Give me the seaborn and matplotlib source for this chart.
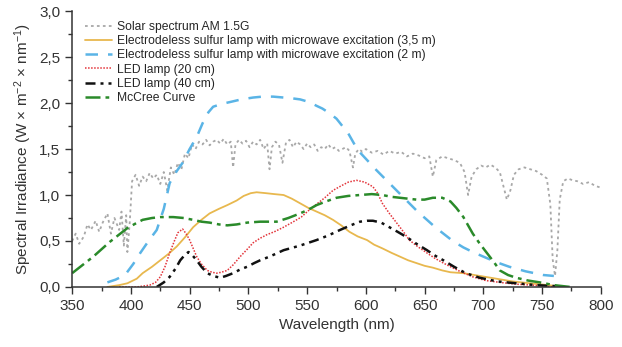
import seaborn as sns
import matplotlib.pyplot as plt
from matplotlib.ticker import MultipleLocator, FuncFormatter

# solar spectrum AM 1.5G (uneven sampling to keep the dips)
solar_nm = [350, 353, 356, 360, 363, 366, 370, 373, 376, 380, 383, 386, 390, 392, 394, 396, 397, 399,
            401, 404, 407, 410, 413, 416, 419, 422, 425, 428, 431, 434, 437, 440, 443, 446, 449, 452,
            455, 458, 461, 464, 467, 470, 473, 476, 479, 482, 485, 487, 489, 492, 495, 498, 501, 504,
            507, 510, 513, 516, 518, 520, 523, 526, 529, 532, 535, 538, 541, 544, 547, 550, 553, 556,
            559, 562, 565, 568, 571, 574, 577, 580, 583, 586, 589, 591, 594, 597, 600, 605, 610, 615,
            620, 625, 630, 635, 640, 645, 650, 654, 657, 660, 665, 670, 675, 680, 684, 687, 690, 694,
            698, 702, 706, 710, 714, 717, 720, 723, 726, 730, 735, 740, 745, 750, 754, 757, 759, 761,
            763, 765, 768, 772, 776, 780, 785, 790, 795, 800]
solar_val = [0.50, 0.58, 0.47, 0.55, 0.68, 0.62, 0.72, 0.60, 0.70, 0.80, 0.58, 0.75, 0.62, 0.82, 0.45, 0.78, 0.38, 0.70,
             1.15, 1.22, 1.10, 1.20, 1.15, 1.24, 1.18, 1.22, 1.12, 1.25, 1.05, 1.30, 1.22, 1.35, 1.28, 1.45, 1.40, 1.55,
             1.50, 1.58, 1.55, 1.60, 1.54, 1.58, 1.60, 1.56, 1.61, 1.55, 1.58, 1.30, 1.55, 1.60, 1.56, 1.59, 1.52, 1.58,
             1.55, 1.60, 1.50, 1.56, 1.28, 1.52, 1.58, 1.55, 1.35, 1.57, 1.60, 1.52, 1.58, 1.55, 1.50, 1.56, 1.52, 1.55,
             1.48, 1.52, 1.50, 1.55, 1.50, 1.52, 1.48, 1.50, 1.52, 1.48, 1.30, 1.45, 1.50, 1.47, 1.50, 1.46, 1.48, 1.44,
             1.48, 1.45, 1.47, 1.42, 1.45, 1.43, 1.40, 1.42, 1.20, 1.38, 1.42, 1.40, 1.38, 1.35, 1.25, 1.00, 1.20, 1.28,
             1.32, 1.30, 1.33, 1.30, 1.25, 1.10, 0.95, 1.05, 1.22, 1.28, 1.30, 1.28, 1.26, 1.22, 1.18, 0.90, 0.30, 0.12,
             0.40, 0.95, 1.15, 1.18, 1.16, 1.15, 1.12, 1.14, 1.10, 1.08]

# electrodeless sulfur lamp, 3,5 m
sulfur35_nm = [380, 390, 397, 405, 410, 418, 425, 432, 439, 446, 453, 460, 467, 475, 482, 490, 496, 502, 507,
               515, 522, 530, 537, 544, 551, 558, 565, 572, 579, 586, 593, 601, 607, 614, 622, 629, 636, 643,
               650, 657, 665, 672, 683, 697, 711, 725, 740, 755, 770]
sulfur35_val = [0.0, 0.02, 0.04, 0.09, 0.15, 0.22, 0.29, 0.36, 0.44, 0.54, 0.65, 0.73, 0.80, 0.85, 0.89, 0.94, 0.99,
                1.02, 1.03, 1.02, 1.01, 1.0, 0.96, 0.91, 0.86, 0.82, 0.78, 0.73, 0.67, 0.60, 0.55, 0.51, 0.46, 0.42,
                0.37, 0.33, 0.29, 0.26, 0.23, 0.21, 0.18, 0.16, 0.15, 0.12, 0.09, 0.06, 0.04, 0.02, 0.0]

# electrodeless sulfur lamp, 2 m
sulfur2_nm = [380, 387, 395, 402, 408, 415, 422, 428, 433, 439, 444, 450, 456, 461, 466, 470, 477, 484, 494, 504,
              512, 521, 530, 538, 544, 552, 558, 563, 569, 575, 580, 585, 593, 601, 609, 616, 623, 630, 637, 644,
              652, 659, 666, 674, 683, 691, 700, 711, 722, 736, 751, 760]
sulfur2_val = [0.05, 0.08, 0.13, 0.25, 0.37, 0.50, 0.62, 0.85, 1.13, 1.26, 1.35, 1.50, 1.63, 1.78, 1.90, 1.96, 1.99,
               2.01, 2.04, 2.06, 2.07, 2.07, 2.06, 2.05, 2.04, 2.01, 1.97, 1.94, 1.89, 1.83, 1.75, 1.67, 1.49, 1.38,
               1.27, 1.18, 1.09, 1.00, 0.91, 0.82, 0.73, 0.65, 0.58, 0.50, 0.43, 0.38, 0.33, 0.27, 0.22, 0.17, 0.13,
               0.12]

# LED lamp at 20 cm
led20_nm = [390, 405, 416, 421, 425, 429, 433, 437, 440, 444, 447, 450, 453, 456, 460, 465, 469, 473, 477, 482,
            487, 493, 499, 504, 510, 516, 522, 530, 537, 545, 552, 558, 565, 572, 579, 585, 592, 599, 606, 610,
            614, 620, 626, 632, 637, 644, 652, 659, 666, 672, 680, 691, 702, 714, 728, 742, 760]
led20_val = [0.0, 0.0, 0.02, 0.05, 0.11, 0.22, 0.37, 0.50, 0.59, 0.63, 0.58, 0.51, 0.42, 0.33, 0.25, 0.18, 0.16, 0.15,
             0.16, 0.18, 0.24, 0.33, 0.41, 0.48, 0.53, 0.57, 0.60, 0.65, 0.70, 0.76, 0.84, 0.90, 0.97, 1.05, 1.10,
             1.14, 1.16, 1.14, 1.09, 1.02, 0.91, 0.80, 0.70, 0.60, 0.51, 0.44, 0.37, 0.31, 0.26, 0.22, 0.17, 0.11,
             0.07, 0.05, 0.03, 0.02, 0.0]

# LED lamp at 40 cm
led40_nm = [422, 428, 433, 438, 442, 446, 449, 452, 456, 460, 465, 470, 476, 481, 487, 493, 499, 505, 510, 518,
            530, 544, 558, 568, 578, 587, 595, 601, 606, 613, 620, 627, 635, 643, 652, 659, 666, 675, 685, 697,
            712, 728, 745, 760, 770]
led40_val = [0.0, 0.05, 0.11, 0.20, 0.29, 0.35, 0.38, 0.35, 0.29, 0.22, 0.15, 0.12, 0.10, 0.12, 0.15, 0.19, 0.22,
             0.26, 0.29, 0.33, 0.40, 0.45, 0.51, 0.56, 0.62, 0.67, 0.71, 0.72, 0.72, 0.70, 0.65, 0.60, 0.54, 0.47,
             0.40, 0.34, 0.29, 0.22, 0.15, 0.10, 0.06, 0.04, 0.02, 0.01, 0.0]

# McCree curve
mccree_nm = [350, 359, 368, 375, 382, 390, 397, 404, 410, 418, 425, 436, 445, 453, 460, 467, 475, 482, 490, 499,
             510, 524, 534, 544, 551, 558, 566, 575, 585, 595, 605, 614, 622, 629, 636, 643, 650, 657, 665, 672,
             677, 683, 687, 691, 697, 703, 709, 714, 721, 728, 738, 748, 760, 774]
mccree_val = [0.15, 0.24, 0.33, 0.41, 0.49, 0.57, 0.64, 0.69, 0.73, 0.75, 0.76, 0.76, 0.75, 0.73, 0.71, 0.70, 0.68,
              0.67, 0.68, 0.70, 0.71, 0.71, 0.75, 0.80, 0.84, 0.89, 0.93, 0.97, 0.99, 1.00, 1.01, 1.00, 0.98, 0.97,
              0.96, 0.95, 0.95, 0.97, 0.97, 0.93, 0.86, 0.76, 0.67, 0.58, 0.47, 0.37, 0.27, 0.18, 0.13, 0.10, 0.07,
              0.05, 0.02, 0.0]

labels = ['Solar spectrum AM 1.5G',
          'Electrodeless sulfur lamp with microwave excitation (3,5 m)',
          'Electrodeless sulfur lamp with microwave excitation (2 m)',
          'LED lamp (20 cm)',
          'LED lamp (40 cm)',
          'McCree Curve']

sns.set_style('ticks')
plt.rcParams['font.family'] = ['Liberation Sans', 'DejaVu Sans']
plt.rcParams['mathtext.fontset'] = 'custom'
plt.rcParams['mathtext.rm'] = 'Liberation Sans'
plt.rcParams['mathtext.it'] = 'Liberation Sans:italic'

fig, ax = plt.subplots(figsize=(6.22, 3.47), dpi=100)
fig.subplots_adjust(left=0.116, right=0.966, bottom=0.173, top=0.968)

sns.lineplot(x=solar_nm, y=solar_val, ax=ax, color='#a8a8a8', linestyle=(0, (1.5, 1.8)), linewidth=1.3,
             label=labels[0])
sns.lineplot(x=sulfur35_nm, y=sulfur35_val, ax=ax, color='#e8b84e', linestyle='-', linewidth=1.3,
             label=labels[1])
sns.lineplot(x=sulfur2_nm, y=sulfur2_val, ax=ax, color='#5ab4e6', linestyle=(0, (5, 4)), linewidth=1.8,
             label=labels[2])
sns.lineplot(x=led20_nm, y=led20_val, ax=ax, color='#e3343a', linestyle=(0, (1, 1)), linewidth=1.1,
             label=labels[3])
sns.lineplot(x=led40_nm, y=led40_val, ax=ax, color='#111111', linestyle=(0, (4, 2, 1.2, 2, 1.2, 2)), linewidth=1.8,
             label=labels[4])
sns.lineplot(x=mccree_nm, y=mccree_val, ax=ax, color='#2a8a2a', linestyle=(0, (6, 2, 1.5, 2)), linewidth=1.8,
             label=labels[5])

ax.set_xlim(350, 800)
ax.set_ylim(0, 3)
ax.xaxis.set_major_locator(MultipleLocator(50))
ax.xaxis.set_minor_locator(MultipleLocator(25))
ax.yaxis.set_major_locator(MultipleLocator(0.5))
ax.yaxis.set_minor_locator(MultipleLocator(0.25))
ax.yaxis.set_major_formatter(FuncFormatter(lambda v, p: f'{v:.1f}'.replace('.', ',')))
ax.tick_params(axis='both', which='major', length=5, width=1, labelsize=11, colors='#333333', direction='out')
ax.tick_params(axis='both', which='minor', length=3, width=1, colors='#333333', direction='out')
sns.despine(ax=ax)
for s in ['left', 'bottom']:
    ax.spines[s].set_color('#333333')
    ax.spines[s].set_linewidth(1.1)

ax.set_xlabel('Wavelength (nm)', fontsize=11, color='#333333')
ax.set_ylabel('Spectral Irradiance (W × m$^{-2}$ × nm$^{-1}$)', fontsize=11, color='#333333')

ax.legend(loc='upper left', bbox_to_anchor=(0.01, 0.99), frameon=False, fontsize=8.7, handlelength=2.3,
          handletextpad=0.35, labelspacing=0.18, borderaxespad=0.2)

plt.savefig('out.png', dpi=100)
